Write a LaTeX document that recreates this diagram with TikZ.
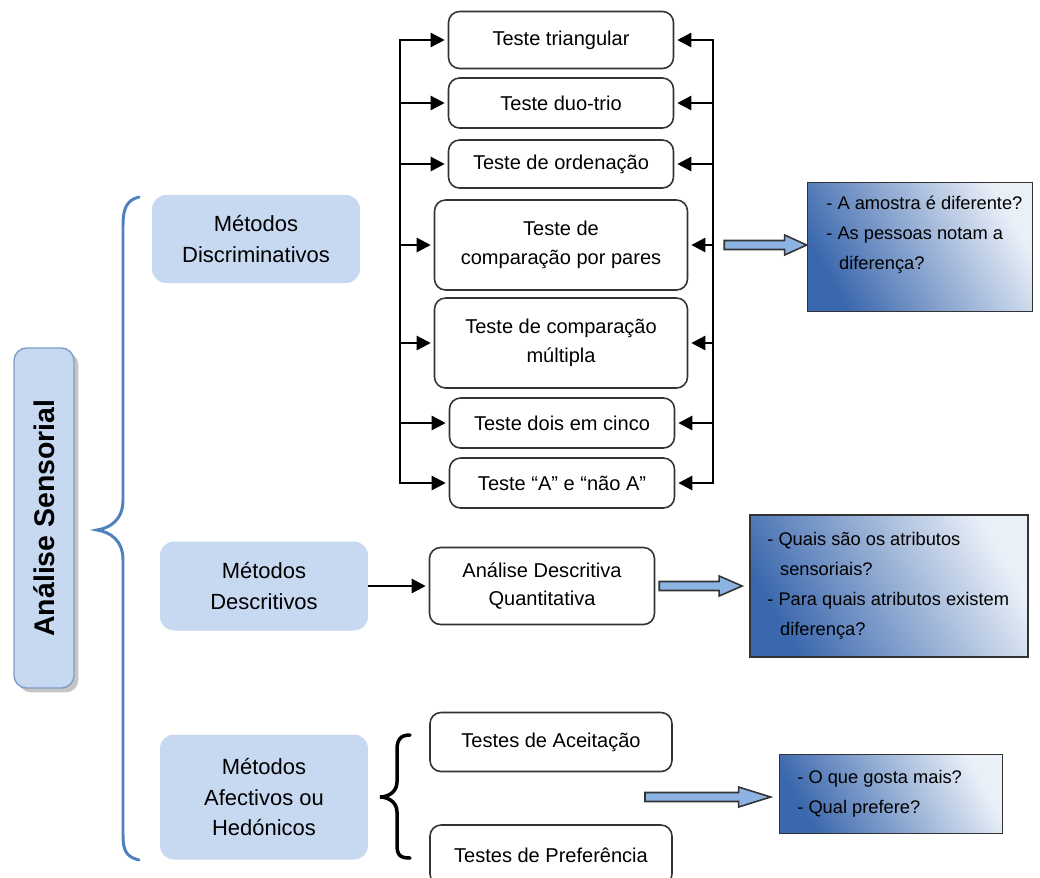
\documentclass[tikz,border=0pt]{standalone}
\usepackage{fontspec}
\setmainfont{Liberation Sans}
\usetikzlibrary{calc,arrows.meta,shadows}
\definecolor{paleblue}{HTML}{C6D9F1}
\definecolor{bracebl}{HTML}{4F81BD}
\definecolor{asborder}{HTML}{7F9DC9}
\definecolor{qdark}{HTML}{3A67AD}
\definecolor{qlight}{HTML}{EAF0F8}
\definecolor{arrowbl}{HTML}{8DB3E2}
\definecolor{edgegray}{HTML}{333333}

% wide blue arrow between two named coordinates (start, tip, head length)
\newcommand{\blockarrow}[3]{%
  \draw[blockar] ($(#1)+(0,-4.5)$) -- ($(#2)+(-#3,-4.5)$) -- ($(#2)+(-#3,-10)$) -- (#2)
    -- ($(#2)+(-#3,10)$) -- ($(#2)+(-#3,4.5)$) -- ($(#1)+(0,4.5)$) -- cycle;}

\begin{document}
\begin{tikzpicture}[x=0.02cm,y=-0.02cm,
  metodo/.style={fill=paleblue, rounded corners=0.28cm, minimum width=4.16cm, inner sep=0,
    align=center, font=\fontsize{12.5}{17.6}\selectfont},
  teste/.style={draw=edgegray, line width=0.9pt, rounded corners=0.22cm, fill=white,
    minimum width=4.5cm, inner sep=0, align=center, font=\fontsize{11.4}{16.5}\selectfont},
  pergunta/.style={draw=edgegray, line width=1pt, top color=qlight, bottom color=qdark,
    shading angle=-60, inner sep=0},
  pertxt/.style={anchor=west, align=left, inner sep=0, font=\fontsize{10.4}{17}\selectfont},
  seta/.style={line width=1.4pt, shorten >=0.06cm, -{Triangle[length=8pt,width=8pt]}},
  blockar/.style={draw=edgegray, line width=0.9pt, fill=arrowbl, line join=miter},
  chave/.style={line width=1.7pt, line cap=round}
]
\useasboundingbox (0,0) rectangle (1040,877);
\clip (0,0) rectangle (1040,877);

% main box and brace
\node[draw=asborder, line width=0.8pt, fill=paleblue, rounded corners=0.25cm, rotate=90,
  minimum width=6.8cm, minimum height=1.2cm, inner sep=0,
  font=\fontsize{16.2}{18}\selectfont\bfseries,
  drop shadow={shadow xshift=2.5pt, shadow yshift=-2.5pt, fill=black!45}] (as) at (44,518) {Análise Sensorial};
\draw[chave, draw=bracebl] (139,197) .. controls (126,200) and (123,210) .. (123,225) -- (123,500)
  .. controls (123,520) and (110,528) .. (97,530) .. controls (110,532) and (123,540) .. (123,560)
  -- (123,835) .. controls (123,850) and (126,857) .. (139,860);

% methods
\node[metodo, minimum height=1.76cm] (disc) at (256,239) {Métodos\\Discriminativos};
\node[metodo, minimum height=1.78cm] (desc) at (264,586) {Métodos\\Descritivos};
\node[metodo, minimum height=2.5cm] (afet) at (264,797) {Métodos\\Afectivos ou\\Hedónicos};

% discriminative tests
\node[teste, minimum height=1.14cm] (t1) at (561,40) {Teste triangular};
\node[teste, minimum height=1.0cm] (t2) at (561,103) {Teste duo-trio};
\node[teste, minimum height=0.96cm] (t3) at (561,164) {Teste de ordenação};
\node[teste, minimum width=5.06cm, minimum height=1.8cm] (t4) at (561,245) {Teste de\\comparação por pares};
\node[teste, minimum width=5.06cm, minimum height=1.8cm] (t5) at (561,343) {Teste de comparação\\múltipla};
\node[teste, minimum height=1.0cm] (t6) at (562,423) {Teste dois em cinco};
\node[teste, minimum height=1.0cm] (t7) at (562,483) {Teste “A” e “não A”};

\coordinate (spl) at (400,40);
\coordinate (spr) at (713,40);
\draw[seta] (t7.west -| spl) -- (t1.west -| spl) -- (t1.west);
\draw[seta] (t6.west -| spl) -- (t7.west -| spl) -- (t7.west);
\draw[seta] (t2.west -| spl) -- (t2.west);
\draw[seta] (t3.west -| spl) -- (t3.west);
\draw[seta] (t4.west -| spl) -- (t4.west);
\draw[seta] (t5.west -| spl) -- (t5.west);
\draw[seta] (t6.west -| spl) -- (t6.west);
\draw[seta] (t7.east -| spr) -- (t1.east -| spr) -- (t1.east);
\draw[seta] (t6.east -| spr) -- (t7.east -| spr) -- (t7.east);
\draw[seta] (t2.east -| spr) -- (t2.east);
\draw[seta] (t3.east -| spr) -- (t3.east);
\draw[seta] (t4.east -| spr) -- (t4.east);
\draw[seta] (t5.east -| spr) -- (t5.east);
\draw[seta] (t6.east -| spr) -- (t6.east);

% descriptive
\node[teste, minimum height=1.54cm] (adq) at (542,586) {Análise Descritiva\\Quantitativa};
\draw[seta] (desc.east) -- (adq.west);

% affective
\node[teste, minimum width=4.84cm, minimum height=1.18cm] (acc) at (551,742) {Testes de Aceitação};
\node[teste, minimum width=4.84cm, minimum height=1.2cm] (pref) at (551,855) {Testes de Preferência};
\draw[chave, line width=2pt] (410,735) .. controls (400,735) and (397,740) .. (397,750) -- (397,782)
  .. controls (397,792) and (388,797) .. (380,797) .. controls (388,797) and (397,802) .. (397,812)
  -- (397,845) .. controls (397,855) and (400,858) .. (410,858);

% questions
\node[pergunta, minimum width=4.5cm, minimum height=2.58cm] (q1) at (920,247) {};
\node[pertxt] (q1t) at (826,235) {- A amostra é diferente?\\- As pessoas notam a\\\hspace*{0.7em}diferença?};
\node[pergunta, minimum width=5.56cm, minimum height=2.84cm] (q2) at (889,586) {};
\node[pertxt] (q2t) at (767,586) {- Quais são os atributos\\\hspace*{0.7em}sensoriais?\\- Para quais atributos existem\\\hspace*{0.7em}diferença?};
\node[pergunta, minimum width=4.46cm, minimum height=1.58cm] (q3) at (891,794) {};
\node[pertxt] (q3t) at (797,794) {- O que gosta mais?\\- Qual prefere?};

\coordinate (b1s) at ($(t4.east)+(36,0)$);
\coordinate (b1e) at (q1.west |- t4.east);
\blockarrow{b1s}{b1e}{22}
\coordinate (b2s) at ($(adq.east)+(4,0)$);
\coordinate (b2e) at ($(q2.west |- adq.east)+(-7,0)$);
\blockarrow{b2s}{b2e}{23}
\coordinate (b3s) at (645,797);
\coordinate (b3e) at ($(q3.west)+(-8,3)$);
\blockarrow{b3s}{b3e}{32}
\end{tikzpicture}
\end{document}
